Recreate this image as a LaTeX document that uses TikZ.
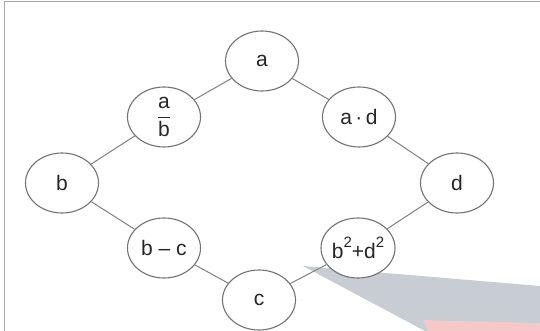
\documentclass[tikz,border=0pt]{standalone}
\usepackage{fontspec}
\setmainfont{Liberation Sans}
\usetikzlibrary{shapes.geometric}
\definecolor{smear}{RGB}{200,205,211}
\definecolor{pinkband}{RGB}{246,200,200}
\newcommand{\supsq}{\raisebox{0.55em}{\fontsize{15}{15}\selectfont 2}}
\begin{document}
\begin{tikzpicture}[x=1pt,y=-1pt,
  vbox/.style={ellipse,draw=black!55,line width=1.1pt,fill=white,minimum width=73pt,minimum height=60pt,inner sep=0pt,
    font=\fontsize{21}{24}\selectfont,text=black!85},
  link/.style={draw=black!50,line width=1pt}]
\useasboundingbox (0,0) rectangle (540,331);
\fill[white] (0,0) rectangle (540,331);
% scan artefacts
\fill[smear] (303,266) -- (540,286) -- (540,331) -- (425,331) -- cycle;
\fill[pinkband] (423,320) -- (540,323) -- (540,331) -- (428,331) -- cycle;
% frame
\draw[black!35,line width=1.5pt] (4.5,331) -- (4.5,1.5) -- (540,1.5);
\node[vbox] (a)  at (262,61)  {a};
\node[vbox] (ab) at (164,117) {$\displaystyle\frac{\mbox{a}}{\mbox{b}}$};
\node[vbox] (ad) at (359,117) {a\,·\,d};
\node[vbox] (b)  at (62,183)  {b};
\node[vbox] (d)  at (457,183) {d};
\node[vbox] (bc) at (164,248) {b – c};
\node[vbox] (bd) at (358,248) {b\supsq+d\supsq};
\node[vbox] (c)  at (259,300) {c};
\draw[link] (a) -- (ab);
\draw[link] (a) -- (ad);
\draw[link] (ab) -- (b);
\draw[link] (ad) -- (d);
\draw[link] (b) -- (bc);
\draw[link] (d) -- (bd);
\draw[link] (bc) -- (c);
\draw[link] (bd) -- (c);
\end{tikzpicture}
\end{document}
